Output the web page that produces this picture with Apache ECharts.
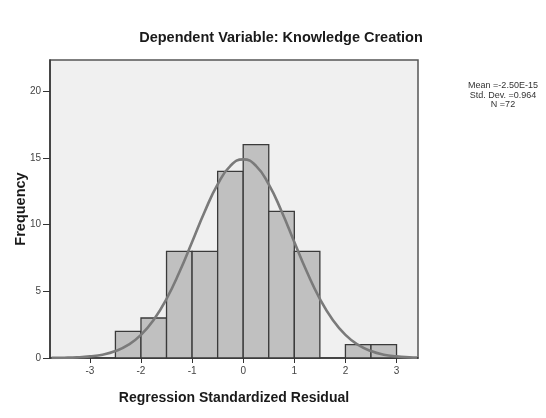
<!DOCTYPE html>
<html><head><meta charset="utf-8">
<script src="https://cdn.jsdelivr.net/npm/echarts@6/dist/echarts.min.js"></script>
<style>html,body{margin:0;padding:0;background:#fff}#c{width:546px;height:418px}</style>
</head><body><div id="c"></div>
<script>
var binStarts = [-2.5, -2, -1.5, -1, -0.5, 0, 0.5, 1, 1.5, 2, 2.5];
var counts = [2, 3, 8, 8, 14, 16, 11, 8, 0, 1, 1];
var binWidth = 0.5;
var curveX = [-3.75,-3.5,-3.25,-3,-2.75,-2.5,-2.25,-2,-1.75,-1.5,-1.25,-1,-0.75,-0.5,-0.25,0,0.25,0.5,0.75,1,1.25,1.5,1.75,2,2.25,2.5,2.75,3,3.25,3.4];
var curveY = [0.01,0.02,0.05,0.12,0.25,0.52,0.98,1.73,2.87,4.44,6.43,8.70,11.01,13.02,14.41,14.9,14.41,13.02,11.01,8.70,6.43,4.44,2.87,1.73,0.98,0.52,0.25,0.12,0.05,0.03];
var xTicks = [-3, -2, -1, 0, 1, 2, 3];
var yTicks = [0, 5, 10, 15, 20];
var statsLines = ['Mean =-2.50E-15', 'Std. Dev. =0.964', 'N =72'];

var chart = echarts.init(document.getElementById('c'), null, {renderer: 'canvas'});
var barData = binStarts.map(function (s, i) { return [s, s + binWidth, counts[i]]; });
var curveData = curveX.map(function (x, i) { return [x, curveY[i]]; });
var font = 'Liberation Sans, Arial, sans-serif';
var narrow = 'Liberation Sans Narrow, Liberation Sans, Arial, sans-serif';
chart.setOption({
  backgroundColor: '#ffffff',
  animation: false,
  title: {
    text: 'Dependent Variable: Knowledge Creation',
    left: 276, top: 25, textAlign: 'center',
    textStyle: {fontFamily: font, fontSize: 14.5, fontWeight: 'bold', color: '#1a1a1a'}
  },
  grid: {left: 50, right: 128, top: 60, bottom: 60, outerBoundsMode: 'none', containLabel: false, show: true, backgroundColor: '#f0f0f0', borderColor: '#555', borderWidth: 1.5},
  xAxis: {
    type: 'value', min: -3.78, max: 3.42,
    name: 'Regression Standardized Residual', nameLocation: 'middle', nameGap: 33,
    nameTextStyle: {fontFamily: font, fontSize: 14, fontWeight: 'bold', color: '#1a1a1a'},
    axisLine: {onZero: false, lineStyle: {color: '#333', width: 1.5}},
    axisTick: {show: true, customValues: xTicks, length: 5, lineStyle: {color: '#333'}},
    axisLabel: {customValues: xTicks, fontFamily: narrow, fontSize: 10, color: '#444', margin: 8},
    splitLine: {show: false}
  },
  yAxis: {
    type: 'value', min: 0, max: 22.35,
    axisLine: {show: true, onZero: false, lineStyle: {color: '#333', width: 1.5}},
    axisTick: {show: true, customValues: yTicks, length: 7, lineStyle: {color: '#333'}},
    axisLabel: {customValues: yTicks, fontFamily: narrow, fontSize: 10, color: '#444', margin: 9},
    splitLine: {show: false}
  },
  series: [
    {
      type: 'custom',
      data: barData,
      encode: {x: [0, 1], y: 2},
      renderItem: function (params, api) {
        var p0 = api.coord([api.value(0), api.value(2)]);
        var p1 = api.coord([api.value(1), 0]);
        if (api.value(2) <= 0) return null;
        return {
          type: 'rect',
          shape: {x: p0[0], y: p0[1], width: p1[0] - p0[0], height: p1[1] - p0[1]},
          style: {fill: '#c0c0c0', stroke: '#3a3a3a', lineWidth: 1.3}
        };
      },
      z: 2
    },
    {
      type: 'line', data: curveData, smooth: true, showSymbol: false,
      lineStyle: {color: '#7a7a7a', width: 2.6}, z: 3
    }
  ],
  graphic: [{
    type: 'text', x: 503, y: 81,
    style: {text: statsLines.join('\n'), fontFamily: narrow, fontSize: 9, lineHeight: 9.5, fill: '#333', align: 'center', verticalAlign: 'top'}
  }, {
    type: 'text', x: 21, y: 209, rotation: Math.PI / 2,
    style: {text: 'Frequency', fontFamily: font, fontSize: 14.5, fontWeight: 'bold', fill: '#1a1a1a', align: 'center', verticalAlign: 'middle'}
  }]
});
</script></body></html>
